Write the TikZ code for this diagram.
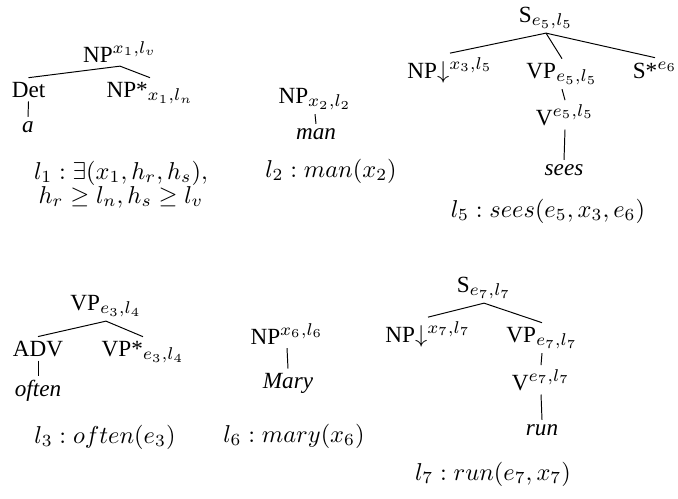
\documentclass[tikz,border=0pt]{standalone}
\usepackage{amsmath, amssymb}
\usepackage{fontspec}
\setmainfont{Liberation Serif}[Scale=0.95]

\begin{document}
\begin{tikzpicture}[x=0.41pt,y=-0.41pt,every node/.style={anchor=base,inner sep=1.5pt},
    sem/.style={inner sep=0pt}]
  \useasboundingbox (0,0) rectangle (678,498);

  % a
  \node (np1) at (120,62) {NP$^{x_1,l_v}$};
  \node (det) at (28.5,97) {Det};
  \node (npa) at (150,97) {NP*$_{x_1,l_n}$};
  \node (a) at (28,132) {\textit{a}};
  \node[sem] (f1a) at (121,179) {$l_1:\exists(x_1,h_r,h_s),$};
  \node[sem] (f1b) at (121,203) {$h_r\geq l_n,h_s\geq l_v$};
  \draw (np1.south) -- (det.north);
  \draw (np1.south) -- (npa.north);
  \draw (det.south) -- (a.north);

  % man
  \node (np2) at (315,103) {NP$_{x_2,l_2}$};
  \node (man) at (316,139) {\textit{man}};
  \node[sem] (f2) at (331,177) {$l_2:man(x_2)$};
  \draw (np2.south) -- (man.north);

  % sees
  \node (s5) at (546,22) {S$_{e_5,l_5}$};
  \node (np3) at (450,78) {NP$\downarrow^{x_3,l_5}$};
  \node (vp5) at (562,78) {VP$_{e_5,l_5}$};
  \node (ss) at (655,78) {S*$^{e_6}$};
  \node (v5) at (565,125) {V$^{e_5,l_5}$};
  \node (sees) at (564,175) {\textit{sees}};
  \node[sem] (f5) at (548,217) {$l_5:sees(e_5,x_3,e_6)$};
  \draw (s5.south) -- (np3.north);
  \draw (s5.south) -- (vp5.north);
  \draw (s5.south) -- (ss.north);
  \draw (vp5.south) -- (v5.north);
  \draw (v5.south) -- (sees.north);

  % often
  \node (vp3) at (106,310) {VP$_{e_3,l_4}$};
  \node (adv) at (38,356) {ADV};
  \node (vpa) at (143,356) {VP*$_{e_3,l_4}$};
  \node (often) at (38,396) {\textit{often}};
  \node[sem] (f3) at (105,443) {$l_3:often(e_3)$};
  \draw (vp3.south) -- (adv.north);
  \draw (vp3.south) -- (vpa.north);
  \draw (adv.south) -- (often.north);

  % Mary
  \node (np6) at (287,344) {NP$^{x_6,l_6}$};
  \node (mary) at (288,388) {\textit{Mary}};
  \node[sem] (f6) at (294,442) {$l_6:mary(x_6)$};
  \draw (np6.south) -- (mary.north);

  % run
  \node (s7) at (484,292) {S$_{e_7,l_7}$};
  \node (np7) at (428,342) {NP$\downarrow^{x_7,l_7}$};
  \node (vp7) at (542,342) {VP$_{e_7,l_7}$};
  \node (v7) at (541,390) {V$^{e_7,l_7}$};
  \node (run) at (542,435) {\textit{run}};
  \node[sem] (f7) at (493,480) {$l_7:run(e_7,x_7)$};
  \draw (s7.south) -- (np7.north);
  \draw (s7.south) -- (vp7.north);
  \draw (vp7.south) -- (v7.north);
  \draw (v7.south) -- (run.north);
\end{tikzpicture}
\end{document}
